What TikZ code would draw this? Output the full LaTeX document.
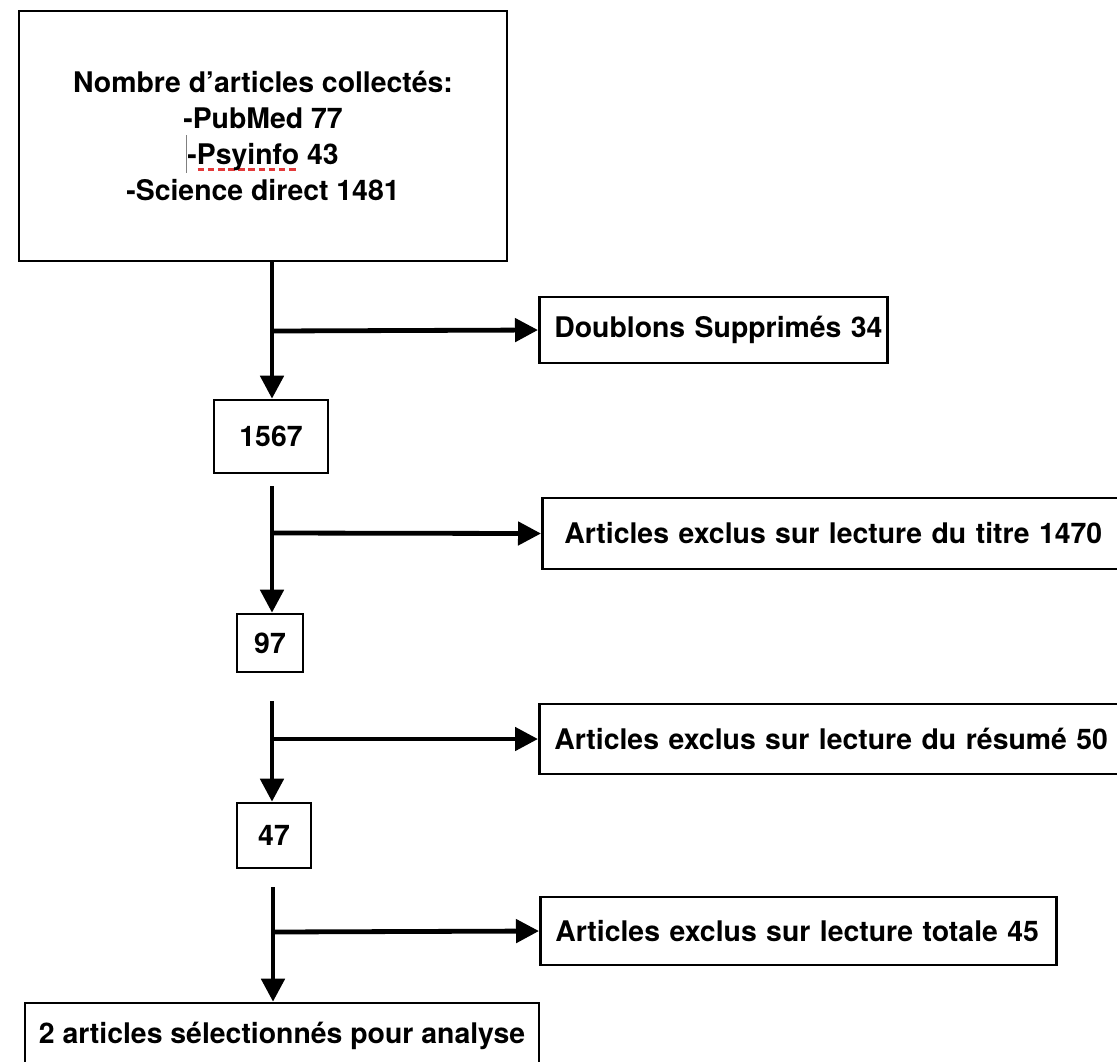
\documentclass[tikz,border=0pt]{standalone}
\usepackage{fontspec}
\setmainfont{TeX Gyre Heros}
\usetikzlibrary{arrows.meta}
\definecolor{spellred}{RGB}{226,58,58}
\newcommand{\spellerr}[1]{%
  \setbox0=\hbox{#1}%
  \rlap{\color{spellred}\raisebox{-3.4pt}{\hbox to \wd0{\xleaders\hbox to 4.7pt{\rule{3.3pt}{1.6pt}\hss}\hfill}}}%
  #1}
\newcommand{\cursorbar}{\llap{\smash{\textcolor{gray}{\rule[-4pt]{0.6pt}{19pt}}}}}
\tikzset{box/.style = {draw, line width=1.3pt, inner sep=0pt,
                       font=\fontsize{14.2}{18}\selectfont\bfseries},
         numbox/.style = {box, align=center},
         sidebox/.style = {box, anchor=west, align=left, inner xsep=7.5pt},
         flow/.style = {line width=2.4pt, -{Triangle[length=11.5pt,width=11.5pt]}}}

\begin{document}
\begin{tikzpicture}[x=0.5pt, y=-0.5pt]
      \useasboundingbox (0,0) rectangle (1117,1061);

      \node [box, align=center, minimum width=244pt, minimum height=125pt] (collect) at (263,136)
        {Nombre d’articles collectés:\\-PubMed 77\\\cursorbar-\spellerr{Psyinfo} 43\\-Science direct 1481};
      \node [numbox, minimum width=57pt, minimum height=36.5pt] (n1567) at (271,436.5) {1567};
      \node [numbox, minimum width=33pt, minimum height=29pt] (n97) at (270,643) {97};
      \node [numbox, minimum width=37pt, minimum height=32.5pt] (n47) at (274,835.5) {47};
      \node [box, align=center, minimum width=257pt, minimum height=33pt] (final) at (282,1036)
        {2 articles sélectionnés pour analyse};

      \node [sidebox, text width=159pt, minimum height=33pt] (dbl) at (538,330)
        {\mbox{Doublons Supprimés 34}};
      \node [sidebox, inner xsep=11pt, text width=270pt, minimum height=35.5pt] (titre) at (541,533.5)
        {\mbox{Articles exclus sur lecture du titre 1470}};
      \node [sidebox, text width=278pt, minimum height=35pt] (resume) at (538,739)
        {\mbox{Articles exclus sur lecture du résumé 50}};
      \node [sidebox, text width=243pt, minimum height=34pt] (totale) at (539,931)
        {\mbox{Articles exclus sur lecture totale 45}};

      \coordinate (s1) at (272,331);
      \coordinate (s2) at (272,533);
      \coordinate (s3) at (272,739);
      \coordinate (s4) at (273,932);
      \coordinate (a2) at (272,486);
      \coordinate (a3) at (272,701);
      \coordinate (a4) at (273,887);

      \draw [flow] (collect.south -| s1) -- (n1567.north -| s1);
      \draw [flow] (a2) -- (n97.north -| a2);
      \draw [flow] (a3) -- (n47.north -| a3);
      \draw [flow] (a4) -- (final.north -| a4);
      \foreach \s/\b in {s1/dbl, s2/titre, s3/resume, s4/totale}
        \draw [flow] (\s) -- (\b.west);
    \end{tikzpicture}
\end{document}
